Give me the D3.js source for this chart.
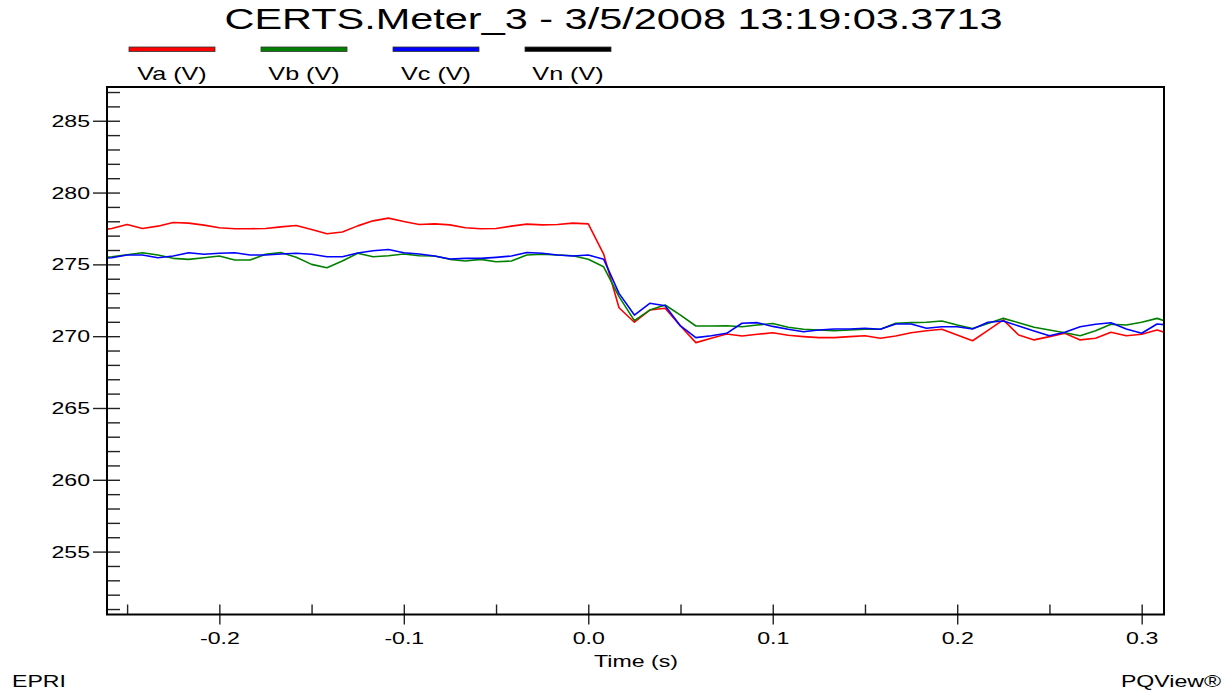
<!DOCTYPE html>
<html>
<head>
<meta charset="utf-8">
<script src="https://cdn.jsdelivr.net/npm/d3@7"></script>
<style>
  html, body { margin: 0; padding: 0; background: #fff; }
  svg { display: block; font-family: "Liberation Sans", Arial, Helvetica, sans-serif; }
</style>
</head>
<body>
<div id="chart"></div>
<script>
// RMS values every half cycle (s)
const timeS = [
  -0.26667, -0.25833, -0.25, -0.24167, -0.23333, -0.225, -0.21667, -0.20833, -0.2, -0.19167,
  -0.18333, -0.175, -0.16667, -0.15833, -0.15, -0.14167, -0.13333, -0.125, -0.11667, -0.10833,
  -0.1, -0.09167, -0.08333, -0.075, -0.06667, -0.05833, -0.05, -0.04167, -0.03333, -0.025,
  -0.01667, -0.00833, 0, 0.00833, 0.01667, 0.025, 0.03333, 0.04167, 0.05, 0.05833,
  0.06667, 0.075, 0.08333, 0.09167, 0.1, 0.10833, 0.11667, 0.125, 0.13333, 0.14167,
  0.15, 0.15833, 0.16667, 0.175, 0.18333, 0.19167, 0.2, 0.20833, 0.21667, 0.225,
  0.23333, 0.24167, 0.25, 0.25833, 0.26667, 0.275, 0.28333, 0.29167, 0.3, 0.30833,
  0.31667
]

const va = [
  277.35, 277.50, 277.78, 277.50, 277.66, 277.92, 277.87, 277.73, 277.55, 277.48,
  277.48, 277.50, 277.61, 277.71, 277.43, 277.13, 277.25, 277.68, 278.03, 278.22,
  277.98, 277.78, 277.82, 277.75, 277.55, 277.48, 277.50, 277.66, 277.80, 277.75,
  277.78, 277.87, 277.82, 275.72, 271.98, 270.97, 271.82, 271.94, 270.71, 269.55,
  269.85, 270.15, 270.01, 270.13, 270.24, 270.06, 269.97, 269.90, 269.90, 269.97,
  270.03, 269.85, 270.01, 270.24, 270.38, 270.48, 270.08, 269.68, 270.40, 271.13,
  270.08, 269.74, 269.97, 270.20, 269.74, 269.85, 270.27, 270.03, 270.13, 270.43,
  270.10
]

const vb = [
  275.45, 275.53, 275.67, 275.81, 275.65, 275.42, 275.35, 275.46, 275.58, 275.30,
  275.30, 275.70, 275.83, 275.49, 275.00, 274.77, 275.23, 275.77, 275.53, 275.60,
  275.72, 275.60, 275.58, 275.35, 275.23, 275.35, 275.18, 275.23, 275.65, 275.70,
  275.65, 275.60, 275.36, 274.83, 272.75, 271.08, 271.82, 272.17, 271.47, 270.71,
  270.71, 270.73, 270.66, 270.78, 270.88, 270.62, 270.48, 270.43, 270.38, 270.43,
  270.48, 270.48, 270.90, 270.94, 270.97, 271.06, 270.78, 270.53, 270.88, 271.24,
  270.94, 270.62, 270.43, 270.24, 270.03, 270.38, 270.83, 270.78, 270.97, 271.24,
  270.90
]

const vc = [
  275.40, 275.46, 275.65, 275.65, 275.46, 275.58, 275.81, 275.70, 275.77, 275.81,
  275.65, 275.65, 275.72, 275.77, 275.70, 275.53, 275.53, 275.79, 275.95, 276.04,
  275.81, 275.72, 275.58, 275.37, 275.42, 275.42, 275.49, 275.58, 275.83, 275.77,
  275.65, 275.58, 275.65, 275.36, 272.98, 271.47, 272.29, 272.12, 270.71, 269.90,
  270.03, 270.20, 270.90, 270.94, 270.68, 270.48, 270.31, 270.43, 270.50, 270.50,
  270.55, 270.48, 270.85, 270.85, 270.55, 270.66, 270.66, 270.50, 270.97, 271.06,
  270.71, 270.36, 270.03, 270.27, 270.66, 270.83, 270.94, 270.50, 270.20, 270.85,
  270.75
]

const seriesNames = ["Va (V)", "Vb (V)", "Vc (V)", "Vn (V)"]
const seriesColors = ["#ff0000", "#008000", "#0000ff", "#000000"]

const xMajorTicks = [-0.2, -0.1, 0.0, 0.1, 0.2, 0.3]
const xMinorTicks = [-0.25, -0.2, -0.15, -0.1, -0.05, 0, 0.05, 0.1, 0.15, 0.2, 0.25, 0.3]
const yMajorTicks = [255, 260, 265, 270, 275, 280, 285]
const yMinorTicks = d3.range(251, 288)

const title = "CERTS.Meter_3 - 3/5/2008 13:19:03.3713"
const xLabel = "Time (s)"

const width = 1227
const height = 691
const margin = {top: 87, right: 63, bottom: 76.5, left: 107}
const stretch = 1.36   // source text is drawn wide

const svg = d3.select("#chart").append("svg")
  .attr("width", width)
  .attr("height", height)

const x = d3.scaleLinear()
  .domain([-0.2609, 0.3121])
  .range([margin.left, width - margin.right])

const y = d3.scaleLinear()
  .domain([250.62, 287.35])
  .range([height - margin.bottom, margin.top])

const wideText = (sel, sx) => sel.each(function() {
  const t = d3.select(this)
  const tx = +t.attr("x") || 0
  const ty = +t.attr("y") || 0
  t.attr("x", null).attr("y", null)
    .attr("transform", `translate(${tx},${ty}) scale(${sx},1)`)
})

// title
svg.append("text")
  .attr("x", 613.5).attr("y", 28.5)
  .attr("text-anchor", "middle")
  .attr("font-size", 29)
  .attr("fill", "#000")
  .text(title)
  .call(wideText, 1.43)

// legend
const legend = svg.append("g")
seriesNames.forEach((name, i) => {
  legend.append("rect")
    .attr("x", 129 + i * 132).attr("y", 47)
    .attr("width", 86).attr("height", 4.5)
    .attr("fill", seriesColors[i])
    .attr("stroke", "#333")
    .attr("stroke-width", 0.8)
  legend.append("text")
    .attr("x", 172 + i * 132).attr("y", 80)
    .attr("text-anchor", "middle")
    .attr("font-size", 18.5)
    .text(name)
    .call(wideText, stretch)
})

// axes
const yMinor = g => g
  .attr("transform", `translate(${margin.left},0)`)
  .call(d3.axisRight(y).tickValues(yMinorTicks).tickSize(13).tickFormat(""))
  .call(g => g.select(".domain").remove())

const yMajor = g => g
  .attr("transform", `translate(${margin.left},0)`)
  .call(d3.axisLeft(y).tickValues(yMajorTicks).tickSize(14).tickPadding(3))
  .call(g => g.select(".domain").remove())

const xMinor = g => g
  .attr("transform", `translate(0,${height - margin.bottom})`)
  .call(d3.axisTop(x).tickValues(xMinorTicks).tickSize(10).tickFormat(""))
  .call(g => g.select(".domain").remove())

const xMajor = g => g
  .attr("transform", `translate(0,${height - margin.bottom})`)
  .call(d3.axisBottom(x).tickValues(xMajorTicks).tickSize(10).tickPadding(7.4)
    .tickFormat(d => d.toFixed(1)))
  .call(g => g.select(".domain").remove())

for (const ax of [yMinor, yMajor, xMinor, xMajor]) {
  svg.append("g").call(ax)
    .attr("font-family", null)
    .attr("font-size", 17)
    .call(g => g.selectAll(".tick line").attr("stroke", "#222").attr("stroke-width", 1.4))
    .call(g => g.selectAll(".tick text").attr("fill", "#000"))
}

// stretch tick labels
svg.selectAll(".tick text").call(wideText, stretch)

// lines
svg.append("clipPath").attr("id", "plot-clip")
  .append("rect")
  .attr("x", margin.left).attr("y", margin.top)
  .attr("width", width - margin.left - margin.right)
  .attr("height", height - margin.top - margin.bottom)

const line = d3.line()
  .x((d, i) => x(timeS[i]))
  .y(d => y(d))

const plot = svg.append("g").attr("clip-path", "url(#plot-clip)")
;[va, vb, vc].forEach((values, i) => {
  plot.append("path")
    .datum(values)
    .attr("fill", "none")
    .attr("stroke", seriesColors[i])
    .attr("stroke-width", 1.6)
    .attr("stroke-linejoin", "round")
    .attr("d", line)
})

// frame
svg.append("rect")
  .attr("x", margin.left).attr("y", margin.top)
  .attr("width", width - margin.left - margin.right)
  .attr("height", height - margin.top - margin.bottom)
  .attr("fill", "none")
  .attr("stroke", "#000")
  .attr("stroke-width", 2)

// footer texts
svg.append("text")
  .attr("x", 636).attr("y", 666.5)
  .attr("text-anchor", "middle")
  .attr("font-size", 17)
  .text(xLabel)
  .call(wideText, stretch)

svg.append("text")
  .attr("x", 12).attr("y", 687)
  .attr("font-size", 17)
  .text("EPRI")
  .call(wideText, stretch)

svg.append("text")
  .attr("x", 1221).attr("y", 687)
  .attr("text-anchor", "end")
  .attr("font-size", 17)
  .text("PQView®")
  .call(wideText, stretch)
</script>
</body>
</html>
